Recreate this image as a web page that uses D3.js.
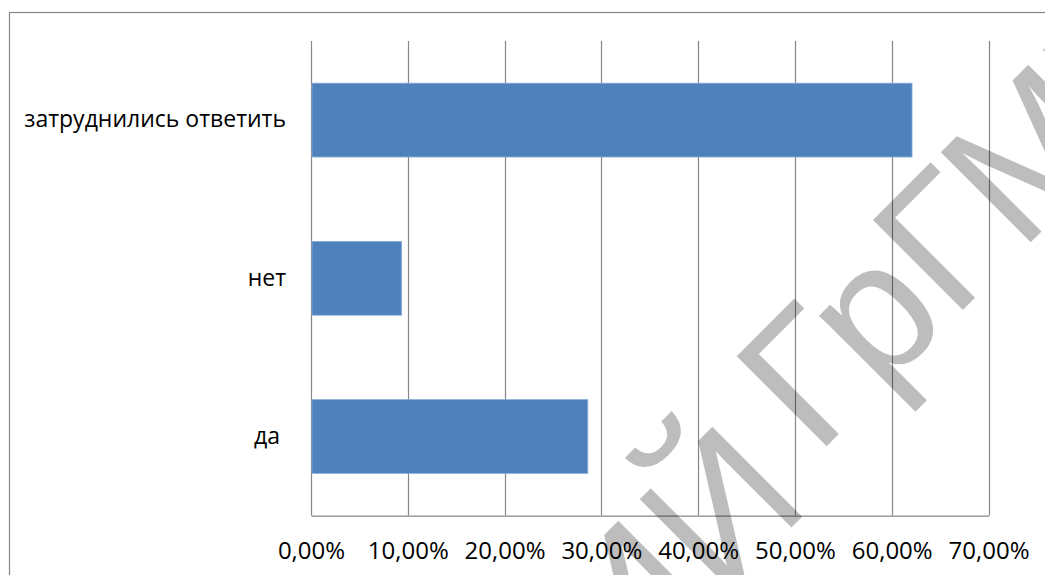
<!DOCTYPE html>
<html>
<head>
<meta charset="utf-8">
<script src="https://cdn.jsdelivr.net/npm/d3@7"></script>
<style>
  body { margin: 0; background: #fff; }
  svg { display: block; }
</style>
</head>
<body>
<script>
// data
var categories = ["затруднились ответить", "нет", "да "];
var values = [0.621, 0.0937, 0.286];
var xTicks = [0, 0.1, 0.2, 0.3, 0.4, 0.5, 0.6, 0.7];
var watermarkHead = "РЕПОЗИТОРИЙ";
var watermarkTail = "ГрГМУ";

var width = 1045, height = 575;
var plotLeft = 311, plotRight = 988.5, plotTop = 41, plotBottom = 515.6;
var gridColor = "#868686";

var svg = d3.select("body").append("svg")
    .attr("width", width)
    .attr("height", height);

// chart frame (only top and left edges are inside the picture)
svg.append("rect")
    .attr("x", 9.5).attr("y", 12.5)
    .attr("width", 1100).attr("height", 700)
    .attr("fill", "#fff")
    .attr("stroke", gridColor)
    .attr("stroke-width", 1.2);

var x = d3.scaleLinear().domain([0, 0.7]).range([plotLeft, plotRight]);
var y = d3.scaleBand().domain(categories).range([plotTop, plotBottom])
    .paddingInner(0.533).paddingOuter(0.2665);

var fmt = function(d) { return d3.format(".2f")(d * 100).replace(".", ",") + "%"; };

// vertical gridlines
svg.append("g").selectAll("line")
    .data(xTicks)
    .enter().append("line")
    .attr("x1", function(d) { return Math.round(x(d)) + 0.5; })
    .attr("x2", function(d) { return Math.round(x(d)) + 0.5; })
    .attr("y1", plotTop)
    .attr("y2", plotBottom)
    .attr("stroke", gridColor)
    .attr("stroke-width", 1.2);

// bars
svg.append("g").selectAll("rect")
    .data(categories)
    .enter().append("rect")
    .attr("x", x(0) + 1)
    .attr("y", function(d) { return y(d); })
    .attr("width", function(d, i) { return x(values[i]) - x(0) - 1; })
    .attr("height", y.bandwidth())
    .attr("fill", "#4F81BD")
    .attr("stroke", "#8EAFD8")
    .attr("stroke-width", 0.8);

// x axis
var xAxis = svg.append("g")
    .attr("transform", "translate(0," + plotBottom + ")")
    .call(d3.axisBottom(x).tickValues(xTicks).tickSize(0).tickPadding(26).tickFormat(fmt));
xAxis.select(".domain")
    .attr("stroke", gridColor)
    .attr("stroke-width", 1.2);
xAxis.selectAll("text")
    .attr("font-family", "'Open Sans', sans-serif")
    .attr("font-size", 24)
    .attr("fill", "#000");

// y axis
var yAxis = svg.append("g")
    .attr("transform", "translate(" + plotLeft + ",0)")
    .call(d3.axisLeft(y).tickSize(0).tickPadding(25));
yAxis.select(".domain").remove();
yAxis.selectAll("text")
    .attr("font-family", "'Open Sans', sans-serif")
    .attr("font-size", 23)
    .attr("fill", "#000")
    .style("white-space", "pre");

// watermark of the source document
var wm = svg.append("g")
    .attr("font-family", "'Liberation Sans', Arial, sans-serif")
    .attr("font-size", 185)
    .attr("fill", "#000")
    .attr("fill-opacity", 0.26);
wm.append("text")
    .attr("transform", "translate(816,457) rotate(-45)")
    .text(watermarkTail);
wm.append("text")
    .attr("transform", "translate(813,506) rotate(-45)")
    .attr("text-anchor", "end")
    .text(watermarkHead);
</script>
</body>
</html>
